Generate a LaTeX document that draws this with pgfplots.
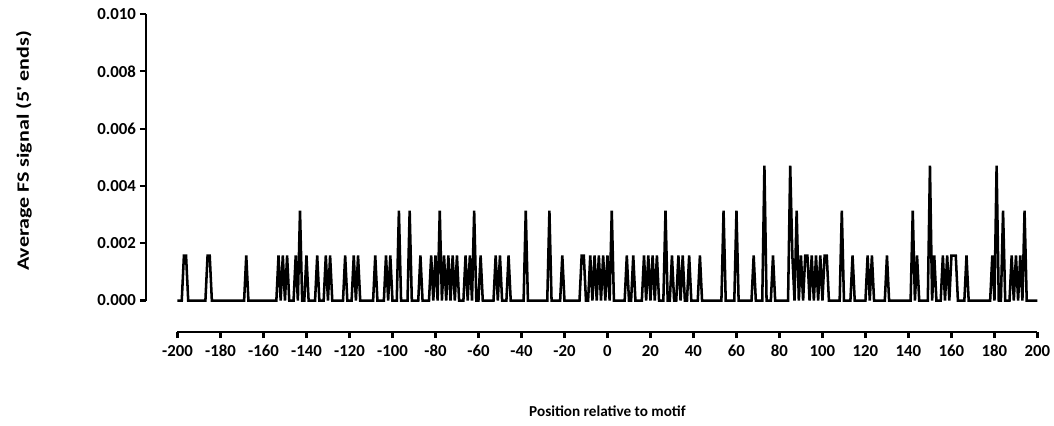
\documentclass[border=0pt]{standalone}
\usepackage{fontspec}
\setmainfont{Carlito}
\newfontfamily\ylabfont{Carlito}[FakeStretch=1.27]
\usepackage{pgfplots}
\pgfplotsset{compat=1.18}
\begin{document}
\begin{tikzpicture}
\begin{axis}[
  at={(0,0)}, anchor=south west,
  scale only axis, width=645pt, height=214.9pt,
  xmin=-200, xmax=200, ymin=0, ymax=0.010,
  scaled y ticks=false, scaled x ticks=false,
  axis lines*=left, axis line shift=23.6pt,
  axis line style={line width=1.9pt, black},
  tick align=outside,
  major tick length=4.5pt,
  every tick/.style={line width=1.6pt, black},
  xtick={-200,-180,...,200},
  xticklabels={-200,-180,-160,-140,-120,-100,-80,-60,-40,-20,0,20,40,60,80,100,120,140,160,180,200},
  ytick={0,0.002,0.004,0.006,0.008,0.010},
  yticklabels={0.000,0.002,0.004,0.006,0.008,0.010},
  tick label style={font=\bfseries\fontsize{12.6}{14}\selectfont},
  xticklabel style={anchor=north, text height=8pt, text depth=0pt, yshift=-2.5pt},
  yticklabel style={anchor=east, xshift=0.5pt},
  xlabel={Position relative to motif},
  ylabel={Average FS signal (5' ends)},
  every axis x label/.style={at={(axis description cs:0.5,-0.385)}, anchor=center,
     font=\bfseries\fontsize{11.4}{13}\selectfont},
  every axis y label/.style={at={(axis description cs:-0.1785,0.522)}, anchor=center, rotate=90,
     font=\ylabfont\bfseries\fontsize{13}{15}\selectfont},
  clip=false,
]
\addplot[black, line width=1.9pt] coordinates {
(-200,0)
(-198,0) (-197,0.00157) (-196,0.00157) (-195,0)
(-187,0) (-186,0.00157) (-185,0.00157) (-184,0)
(-169,0) (-168,0.00157) (-167,0)
(-154,0) (-153,0.00157) (-152,0) (-151,0.00157) (-150,0) (-149,0.00157) (-148,0)
(-146,0) (-145,0.00157) (-144,0) (-143,0.00314) (-142,0) (-141,0) (-140,0.00157) (-139,0)
(-136,0) (-135,0.00157) (-134,0)
(-132,0) (-131,0.00157) (-130,0) (-129,0.00157) (-128,0)
(-123,0) (-122,0.00157) (-121,0)
(-119,0) (-118,0.00157) (-117,0) (-116,0.00157) (-115,0)
(-109,0) (-108,0.00157) (-107,0)
(-104,0) (-103,0.00157) (-102,0) (-101,0.00157) (-100,0)
(-98,0) (-97,0.00314) (-96,0)
(-93,0) (-92,0.00314) (-91,0)
(-88,0) (-87,0.00157) (-86,0)
(-83,0) (-82,0.00157) (-81,0) (-80,0.00157) (-79,0) (-78,0.00314) (-77,0) (-76,0.00157) (-75,0) (-74,0.00157) (-73,0) (-72,0.00157) (-71,0) (-70,0.00157) (-69,0)
(-67,0) (-66,0.00157) (-65,0) (-64,0.00157) (-63,0) (-62,0.00314) (-61,0) (-60,0) (-59,0.00157) (-58,0)
(-53,0) (-52,0.00157) (-51,0) (-50,0.00157) (-49,0)
(-47,0) (-46,0.00157) (-45,0)
(-39,0) (-38,0.00314) (-37,0)
(-28,0) (-27,0.00314) (-26,0)
(-22,0) (-21,0.00157) (-20,0)
(-13,0) (-12,0.00157) (-11,0.00157) (-10,0)
(-9,0) (-8,0.00157) (-7,0) (-6,0.00157) (-5,0) (-4,0.00157) (-3,0) (-2,0.00157) (-1,0) (0,0.00157) (1,0) (2,0.00314) (3,0)
(8,0) (9,0.00157) (10,0)
(11,0) (12,0.00157) (13,0)
(16,0) (17,0.00157) (18,0) (19,0.00157) (20,0) (21,0.00157) (22,0) (23,0.00157) (24,0)
(26,0) (27,0.00314) (28,0)
(29,0) (30,0.00157) (31,0)
(32,0) (33,0.00157) (34,0) (35,0.00157) (36,0)
(37,0) (38,0.00157) (39,0)
(42,0) (43,0.00157) (44,0)
(53,0) (54,0.00314) (55,0)
(59,0) (60,0.00314) (61,0)
(67,0) (68,0.00157) (69,0)
(72,0) (73,0.00471) (74,0)
(76,0) (77,0.00157) (78,0)
(84,0) (85,0.00471) (86,0.00157) (87,0) (88,0.00314) (89,0) (90,0.00157) (91,0) (92,0.00157) (93,0.00157) (94,0) (95,0.00157) (96,0) (97,0.00157) (98,0) (99,0.00157) (100,0) (101,0.00157) (102,0.00157) (103,0)
(108,0) (109,0.00314) (110,0)
(113,0) (114,0.00157) (115,0)
(120,0) (121,0.00157) (122,0) (123,0.00157) (124,0)
(129,0) (130,0.00157) (131,0)
(141,0) (142,0.00314) (143,0) (144,0.00157) (145,0)
(149,0) (150,0.00471) (151,0) (152,0.00157) (153,0)
(155,0) (156,0.00157) (157,0) (158,0.00157) (159,0) (160,0.00157) (161,0.00157) (162,0.00157) (163,0)
(166,0) (167,0.00157) (168,0)
(178,0) (179,0.00157) (180,0) (181,0.00471) (182,0) (183,0) (184,0.00314) (185,0)
(187,0) (188,0.00157) (189,0) (190,0.00157) (191,0) (192,0.00157) (193,0) (194,0.00314) (195,0)
(200,0)
};
\end{axis}
\pgfresetboundingbox
\path[use as bounding box] (-133.1pt,-93.4pt) rectangle (657.4pt,225.4pt);
\end{tikzpicture}
\end{document}
